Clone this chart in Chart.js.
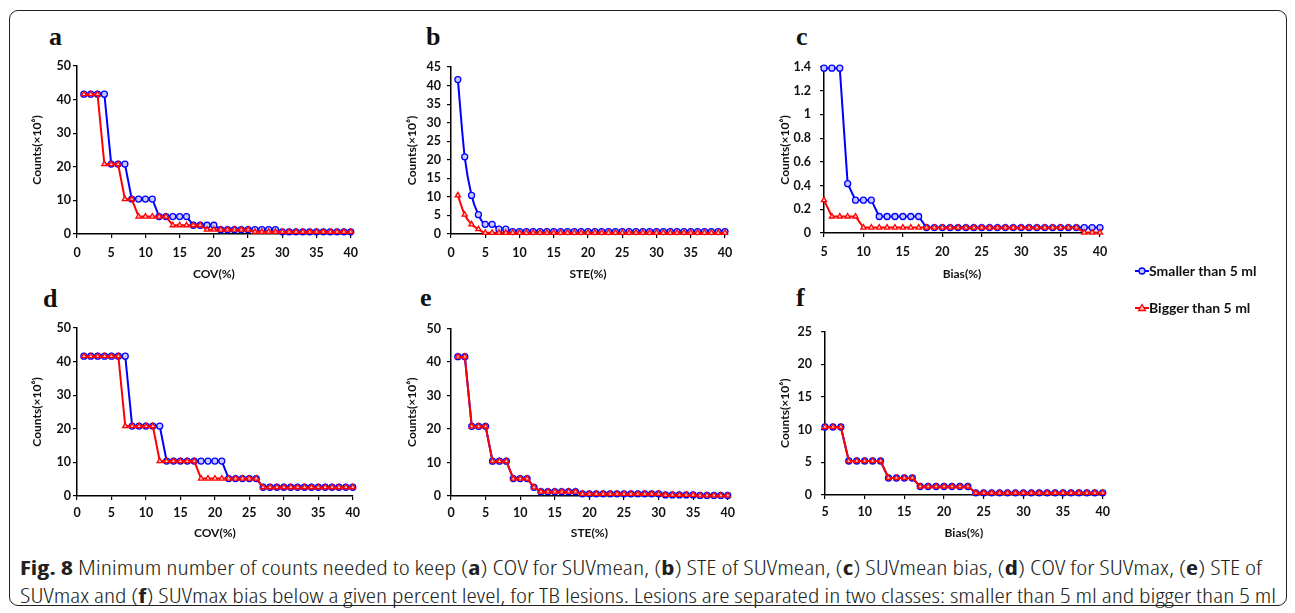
<!DOCTYPE html>
<html>
<head>
<meta charset="utf-8">
<script src="https://cdn.jsdelivr.net/npm/chart.js@4.4.1/dist/chart.umd.min.js"></script>
<style>
	html, body { margin: 0; padding: 0; background: #fff; }
	#lienzo { position: relative; width: 1295px; height: 613px; overflow: hidden; }
	#marco { position: absolute; left: 9px; top: 10px; width: 1276px; height: 594px; border: 1.5px solid #222; border-radius: 9px; }
	canvas.panel { position: absolute; }
	.letra { position: absolute; font-family: "Liberation Serif", "DejaVu Serif", serif; font-weight: bold; font-size: 26px; line-height: 26px; color: #111; }
	.leyenda { position: absolute; font-family: Lato, "Open Sans", sans-serif; font-weight: bold; font-size: 14px; line-height: 18px; color: #111; white-space: nowrap; }
	.pie { position: absolute; left: 20px; font-family: "Open Sans", sans-serif; font-weight: 300; font-stretch: condensed; font-size: 20px; line-height: 22px; color: #231f20; white-space: nowrap; display: inline-block; transform-origin: 0 50%; }
	.pie b { font-weight: 700; }
</style>
</head>
<body>
<div id="lienzo">
	<div id="marco"></div>

	<div class="letra" style="left:49px; top:24px;">a</div>
	<div class="letra" style="left:426px; top:24px;">b</div>
	<div class="letra" style="left:796px; top:24px;">c</div>
	<div class="letra" style="left:43px; top:286px;">d</div>
	<div class="letra" style="left:420px; top:285px;">e</div>
	<div class="letra" style="left:796px; top:285px;">f</div>

	<canvas id="simbolos" width="30" height="70" style="position:absolute; left:1128px; top:255px;"></canvas>
	<div class="leyenda" style="left:1149px; top:262px;">Smaller than 5 ml</div>
	<div class="leyenda" style="left:1149px; top:299px;">Bigger than 5 ml</div>

	<div class="pie" id="pie1" data-ancho="1242" style="top:557px;"><b>Fig. 8</b> Minimum number of counts needed to keep (<b>a</b>) COV for SUVmean, (<b>b</b>) STE of SUVmean, (<b>c</b>) SUVmean bias, (<b>d</b>) COV for SUVmax, (<b>e</b>) STE of</div>
	<div class="pie" id="pie2" data-ancho="1256" style="top:585px;">SUVmax and (<b>f</b>) SUVmax bias below a given percent level, for TB lesions. Lesions are separated in two classes: smaller than 5 ml and bigger than 5 ml</div>
</div>

<script>
// Datos (conteos x10^6)
const nombres = ['Smaller than 5 ml', 'Bigger than 5 ml'];

// Eje x: porcentaje 1..40 (a, b, d, e) y 5..40 (c, f)
const xDesde1 = [1,2,3,4,5,6,7,8,9,10,11,12,13,14,15,16,17,18,19,20,21,22,23,24,25,26,27,28,29,30,31,32,33,34,35,36,37,38,39,40];
const xDesde5 = [5,6,7,8,9,10,11,12,13,14,15,16,17,18,19,20,21,22,23,24,25,26,27,28,29,30,31,32,33,34,35,36,37,38,39,40];

// (a) COV SUVmean
const covMeanAzul = [41.6,41.6,41.6,41.6,20.8,20.8,20.8,10.4,10.4,10.4,10.4,5.2,5.2,5.2,5.2,5.2,2.6,2.6,2.6,2.6,1.3,1.3,1.3,1.3,1.3,1.3,1.3,1.3,1.3,0.65,0.65,0.65,0.65,0.65,0.65,0.65,0.65,0.65,0.65,0.65];
const covMeanRojo = [41.6,41.6,41.6,20.8,20.8,20.8,10.4,10.4,5.2,5.2,5.2,5.2,5.2,2.6,2.6,2.6,2.6,2.6,1.3,1.3,1.3,1.3,1.3,1.3,1.3,0.65,0.65,0.65,0.65,0.65,0.65,0.65,0.65,0.65,0.65,0.65,0.65,0.65,0.65,0.65];

// (b) STE SUVmean
const steMeanAzul = [41.6,20.8,10.4,5.2,2.6,2.6,1.3,1.3,0.65,0.65,0.65,0.65,0.65,0.65,0.65,0.65,0.65,0.65,0.65,0.65,0.65,0.65,0.65,0.65,0.65,0.65,0.65,0.65,0.65,0.65,0.65,0.65,0.65,0.65,0.65,0.65,0.65,0.65,0.65,0.65];
const steMeanRojo = [10.4,5.2,2.6,1.3,0.33,0.33,0.33,0.33,0.33,0.33,0.33,0.33,0.33,0.33,0.33,0.33,0.33,0.33,0.33,0.33,0.33,0.33,0.33,0.33,0.33,0.33,0.33,0.33,0.33,0.33,0.33,0.33,0.33,0.33,0.33,0.33,0.33,0.33,0.33,0.33];

// (c) Bias SUVmean
const biasMeanAzul = [1.39,1.39,1.39,0.416,0.277,0.277,0.277,0.139,0.139,0.139,0.139,0.139,0.139,0.046,0.046,0.046,0.046,0.046,0.046,0.046,0.046,0.046,0.046,0.046,0.046,0.046,0.046,0.046,0.046,0.046,0.046,0.046,0.046,0.046,0.046,0.046];
const biasMeanRojo = [0.277,0.139,0.139,0.139,0.139,0.046,0.046,0.046,0.046,0.046,0.046,0.046,0.046,0.046,0.046,0.046,0.046,0.046,0.046,0.046,0.046,0.046,0.046,0.046,0.046,0.046,0.046,0.046,0.046,0.046,0.046,0.046,0.046,0.004,0.004,0.004];

// (d) COV SUVmax
const covMaxAzul = [41.6,41.6,41.6,41.6,41.6,41.6,41.6,20.8,20.8,20.8,20.8,20.8,10.4,10.4,10.4,10.4,10.4,10.4,10.4,10.4,10.4,5.2,5.2,5.2,5.2,5.2,2.6,2.6,2.6,2.6,2.6,2.6,2.6,2.6,2.6,2.6,2.6,2.6,2.6,2.6];
const covMaxRojo = [41.6,41.6,41.6,41.6,41.6,41.6,20.8,20.8,20.8,20.8,20.8,10.4,10.4,10.4,10.4,10.4,10.4,5.2,5.2,5.2,5.2,5.2,5.2,5.2,5.2,5.2,2.6,2.6,2.6,2.6,2.6,2.6,2.6,2.6,2.6,2.6,2.6,2.6,2.6,2.6];

// (e) STE SUVmax
const steMaxAzul = [41.6,41.6,20.8,20.8,20.8,10.4,10.4,10.4,5.2,5.2,5.2,2.6,1.3,1.3,1.3,1.3,1.3,1.3,0.65,0.65,0.65,0.65,0.65,0.65,0.65,0.65,0.65,0.65,0.65,0.65,0.33,0.33,0.33,0.33,0.33,0.16,0.16,0.16,0.16,0.16];
const steMaxRojo = [41.6,41.6,20.8,20.8,20.8,10.4,10.4,10.4,5.2,5.2,5.2,2.6,1.3,1.3,1.3,1.3,1.3,1.3,0.65,0.65,0.65,0.65,0.65,0.65,0.65,0.65,0.65,0.65,0.65,0.65,0.33,0.33,0.33,0.33,0.33,0.16,0.16,0.16,0.16,0.16];

// (f) Bias SUVmax
const biasMaxAzul = [10.4,10.4,10.4,5.2,5.2,5.2,5.2,5.2,2.6,2.6,2.6,2.6,1.3,1.3,1.3,1.3,1.3,1.3,1.3,0.33,0.33,0.33,0.33,0.33,0.33,0.33,0.33,0.33,0.33,0.33,0.33,0.33,0.33,0.33,0.33,0.33];
const biasMaxRojo = [10.4,10.4,10.4,5.2,5.2,5.2,5.2,5.2,2.6,2.6,2.6,2.6,1.3,1.3,1.3,1.3,1.3,1.3,1.3,0.33,0.33,0.33,0.33,0.33,0.33,0.33,0.33,0.33,0.33,0.33,0.33,0.33,0.33,0.33,0.33,0.33];

const tituloY = 'Counts(\u00d710\u2076)';
const fuente = 'Lato';
const tamTitulo = 12;

// Unir x con y
const pares = function(xs, ys){
	return xs.map((x, i) => ({x: x, y: ys[i]}));
};

// Crear cada grafica en su caja
const crearPanel = function(p){

	let canvas = document.createElement('canvas');
	canvas.className = 'panel';
	canvas.width = p.caja[2] - p.caja[0];
	canvas.height = p.caja[3] - p.caja[1];
	canvas.style.left = p.caja[0] + 'px';
	canvas.style.top = p.caja[1] + 'px';
	document.getElementById('lienzo').appendChild(canvas);

	let izq = p.caja[0], arriba = p.caja[1], der = p.caja[2], abajo = p.caja[3];
	let lhTitulo = tamTitulo * 1.2;

	let serie = function(nombre, ys, color, fondo, estilo, orden){
		return {
			label: nombre,
			data: pares(p.x, ys),
			borderColor: color,
			borderWidth: 2,
			pointStyle: estilo,
			pointRadius: 3,
			pointBorderColor: color,
			pointBorderWidth: 1.3,
			pointBackgroundColor: fondo,
			cubicInterpolationMode: p.suave ? 'monotone' : 'default',
			tension: p.suave ? 0.4 : 0,
			clip: false,
			order: orden
		};
	};

	new Chart(canvas, {
		type: 'line',
		data: {
			datasets: [
				serie(nombres[0], p.azul, '#0000ff', '#c8c8ff', 'circle', 2),
				serie(nombres[1], p.rojo, '#ff0000', '#ffc8c8', 'triangle', 1)
			]
		},
		options: {
			responsive: false,
			animation: false,
			devicePixelRatio: 1,
			layout: { padding: { top: p.area[2] - arriba, right: der - p.area[1], bottom: 0, left: 0 } },
			plugins: { legend: { display: false }, tooltip: { enabled: false } },
			scales: {
				x: {
					type: 'linear',
					min: p.xMin, max: 40,
					border: { display: true, color: '#000', width: 1.5 },
					grid: { drawOnChartArea: false, drawTicks: true, tickLength: 4, color: '#000', lineWidth: 1.2 },
					ticks: { stepSize: 5, maxRotation: 0, autoSkip: false, padding: p.padX, color: '#111', font: { family: fuente, weight: 'bold', size: 12.5 } },
					title: { display: true, text: p.tituloX, color: '#111', font: { family: fuente, weight: 'bold', size: tamTitulo }, padding: { top: 0, bottom: abajo - p.yTituloX - lhTitulo / 2 } },
					afterFit: function(s){ s.height = abajo - p.area[3]; }
				},
				y: {
					min: 0, max: p.yMax,
					border: { display: true, color: '#000', width: 1.5 },
					grid: { drawOnChartArea: false, drawTicks: true, tickLength: 4, color: '#000', lineWidth: 1.2 },
					ticks: {
						stepSize: p.paso, padding: p.padY, color: '#111',
						font: { family: fuente, weight: 'bold', size: 12.5 },
						callback: v => String(Number(v.toFixed(2)))
					},
					title: { display: true, text: tituloY, color: '#111', font: { family: fuente, weight: 'bold', size: tamTitulo }, padding: { top: p.xTituloY - izq - lhTitulo / 2, bottom: 0 } },
					afterFit: function(s){ s.width = p.area[0] - izq; }
				}
			}
		}
	});
};

// area = [izq, der, arriba, abajo] del trazado en la pagina
crearPanel({ caja: [20, 50, 365, 285], area: [77, 353, 66, 234], x: xDesde1, xMin: 0, azul: covMeanAzul, rojo: covMeanRojo, yMax: 50, paso: 5, tituloX: 'COV(%)', padX: 7, padY: 2, yTituloX: 274, xTituloY: 37 });
crearPanel({ caja: [395, 50, 740, 285], area: [451, 725, 67, 234], x: xDesde1, xMin: 0, azul: steMeanAzul, rojo: steMeanRojo, yMax: 45, paso: 5, tituloX: 'STE(%)', padX: 7, padY: 6, yTituloX: 274, xTituloY: 412, suave: true });
crearPanel({ caja: [770, 50, 1115, 285], area: [824, 1100, 67, 233], x: xDesde5, xMin: 5, azul: biasMeanAzul, rojo: biasMeanRojo, yMax: 1.4, paso: 0.2, tituloX: 'Bias(%)', padX: 7, padY: 9, yTituloX: 274, xTituloY: 785 });
crearPanel({ caja: [20, 315, 365, 545], area: [77, 353, 328, 496], x: xDesde1, xMin: 0, azul: covMaxAzul, rojo: covMaxRojo, yMax: 50, paso: 5, tituloX: 'COV(%)', padX: 5, padY: 2, yTituloX: 533, xTituloY: 37 });
crearPanel({ caja: [395, 315, 740, 545], area: [451, 728, 328, 496], x: xDesde1, xMin: 0, azul: steMaxAzul, rojo: steMaxRojo, yMax: 50, paso: 5, tituloX: 'STE(%)', padX: 5, padY: 6, yTituloX: 533, xTituloY: 412 });
crearPanel({ caja: [770, 315, 1115, 545], area: [825, 1103, 328, 495], x: xDesde5, xMin: 5, azul: biasMaxAzul, rojo: biasMaxRojo, yMax: 25, paso: 5, tituloX: 'Bias(%)', padX: 5, padY: 9, yTituloX: 533, xTituloY: 785 });

// Simbolos de la leyenda
const ctx = document.getElementById('simbolos').getContext('2d');
const dibujarSimbolo = function(y, color, fondo, tipo){
	ctx.strokeStyle = color;
	ctx.lineWidth = 2;
	ctx.beginPath(); ctx.moveTo(7, y); ctx.lineTo(21, y); ctx.stroke();
	ctx.lineWidth = 1.3;
	ctx.fillStyle = fondo;
	ctx.beginPath();
	if(tipo == 'circle'){
		ctx.arc(14, y, 3, 0, Math.PI * 2);
	}else{
		ctx.moveTo(14, y - 3.5); ctx.lineTo(17.5, y + 2.5); ctx.lineTo(10.5, y + 2.5); ctx.closePath();
	}
	ctx.fill(); ctx.stroke();
};
dibujarSimbolo(16, '#0000ff', '#c8c8ff', 'circle');
dibujarSimbolo(53, '#ff0000', '#ffc8c8', 'triangle');

// Ajustar el ancho del pie de figura
document.querySelectorAll('.pie').forEach(function(el){
	let natural = el.getBoundingClientRect().width;
	let objetivo = Number(el.getAttribute('data-ancho'));
	el.style.transform = `scaleX(${objetivo / natural})`;
});
</script>
</body>
</html>
